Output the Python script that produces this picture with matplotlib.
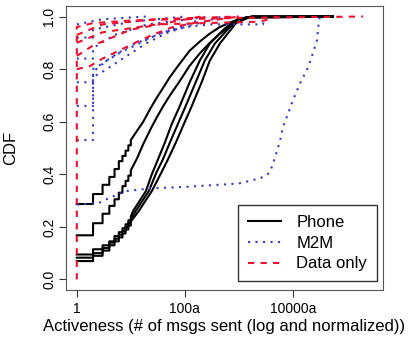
import matplotlib
matplotlib.use('Agg')
import matplotlib.pyplot as plt

plt.rcParams['font.family'] = ['Liberation Sans', 'DejaVu Sans']

# Phone CDFs (x = msgs sent, first 10 points are integer steps)
phone_x = [
    [1, 2, 3, 4, 5, 6, 7, 8, 9, 10, 13, 17, 23, 30, 40, 53, 80, 123, 190, 290, 445, 680, 1000, 1500, 55000],
    [1, 2, 3, 4, 5, 6, 7, 8, 9, 10, 13, 17, 23, 30, 40, 55, 81, 120, 190, 290, 445, 700, 1000, 1500, 55000],
    [1, 2, 3, 4, 5, 6, 7, 8, 9, 10, 11, 19, 24.5, 31.6, 42.6, 57, 81, 123, 189, 290, 550, 960, 1800, 55000],
    [1, 2, 3, 4, 5, 6, 7, 8, 9, 10, 12.3, 21.5, 30.3, 39, 52.7, 74, 104, 159, 234, 360, 680, 960, 1800, 55000],
    [1, 2, 3, 4, 5, 6, 7, 8, 9, 10, 14, 24.5, 37.5, 48.3, 68, 95.5, 135, 205, 290, 445, 810, 960, 1800, 55000],
]
phone_y = [
    [0.287, 0.325, 0.36, 0.39, 0.42, 0.45, 0.47, 0.49, 0.51, 0.53, 0.565, 0.60, 0.65, 0.69, 0.73, 0.77, 0.82, 0.87, 0.905, 0.935, 0.96, 0.977, 0.99, 0.998, 1.0],
    [0.168, 0.214, 0.25, 0.28, 0.305, 0.33, 0.355, 0.375, 0.395, 0.415, 0.46, 0.515, 0.57, 0.615, 0.66, 0.705, 0.755, 0.81, 0.86, 0.90, 0.935, 0.962, 0.98, 0.995, 1.0],
    [0.095, 0.115, 0.13, 0.145, 0.165, 0.18, 0.195, 0.21, 0.225, 0.24, 0.26, 0.336, 0.40, 0.455, 0.52, 0.59, 0.66, 0.75, 0.832, 0.897, 0.955, 0.99, 1.0, 1.0],
    [0.083, 0.10, 0.12, 0.14, 0.155, 0.17, 0.185, 0.20, 0.215, 0.23, 0.26, 0.336, 0.41, 0.455, 0.52, 0.59, 0.66, 0.75, 0.832, 0.897, 0.96, 0.99, 1.0, 1.0],
    [0.07, 0.09, 0.11, 0.13, 0.145, 0.16, 0.175, 0.19, 0.205, 0.22, 0.26, 0.336, 0.41, 0.455, 0.52, 0.59, 0.66, 0.75, 0.832, 0.897, 0.965, 0.99, 1.0, 1.0],
]
phone_steps = [10, 10, 10, 10, 10]

# M2M CDFs
m2m_x = [
    [1, 2.5, 4, 8, 25, 100, 1000, 2500, 3700, 4300, 5800, 6500, 10000, 13500, 19000, 23500, 28000, 30000, 31600],
    [1, 2, 3, 5, 10, 20, 50, 100, 300, 2800, 3000],
    [1, 2, 4, 10, 40, 100, 500],
    [1, 2, 5, 20, 300],
    [1, 2, 10, 100],
    [1, 3, 20],
    [1, 2, 6, 30, 200],
]
m2m_y = [
    [0.285, 0.29, 0.31, 0.336, 0.347, 0.352, 0.365, 0.385, 0.405, 0.44, 0.527, 0.576, 0.68, 0.745, 0.805, 0.86, 0.91, 0.97, 1.0],
    [0.53, 0.77, 0.79, 0.82, 0.86, 0.90, 0.94, 0.96, 0.97, 0.97, 1.0],
    [0.75, 0.79, 0.84, 0.89, 0.94, 0.96, 1.0],
    [0.84, 0.88, 0.93, 0.97, 1.0],
    [0.92, 0.95, 0.98, 1.0],
    [0.97, 0.99, 1.0],
    [0.66, 0.80, 0.86, 0.93, 0.99],
]
m2m_steps = [1, 2, 2, 2, 2, 1, 2]

# Data only CDFs
data_x = [
    [1, 1, 2, 10, 100, 1000, 200000],
    [1, 3, 30, 1000],
    [1, 1.7, 3, 6, 12, 25, 60, 200, 1000],
    [1, 3, 30, 2000, 3000, 5000],
    [1, 2, 10, 200],
]
data_y = [
    [0.0, 0.96, 0.975, 0.985, 0.99, 0.995, 1.0],
    [0.93, 0.97, 0.99, 1.0],
    [0.80, 0.81, 0.84, 0.87, 0.90, 0.93, 0.96, 0.98, 1.0],
    [0.90, 0.94, 0.97, 0.98, 0.985, 1.0],
    [0.85, 0.89, 0.95, 1.0],
]

x_ticks = [1, 100, 10000]
x_ticklabels = ['1', '100a', '10000a']
y_ticks = [0.0, 0.2, 0.4, 0.6, 0.8, 1.0]


def stair(xs, ys, n):
    # first n points drawn as steps, the rest straight
    px, py = [], []
    for i in range(len(xs)):
        if 0 < i < n:
            px.append(xs[i])
            py.append(ys[i - 1])
        px.append(xs[i])
        py.append(ys[i])
    return px, py


fig = plt.figure(figsize=(4.17, 3.41), dpi=100)
ax = fig.add_axes([66 / 417, 51 / 341, 317 / 417, 284 / 341])

for i in range(len(phone_x)):
    sx, sy = stair(phone_x[i], phone_y[i], phone_steps[i])
    ax.plot(sx, sy, color='black', lw=1.5, label='Phone' if i == 0 else None)

for i in range(len(m2m_x)):
    sx, sy = stair(m2m_x[i], m2m_y[i], m2m_steps[i])
    ax.plot(sx, sy, color='#3838c8', lw=1.5, dashes=(1, 2.6),
            label='M2M' if i == 0 else None)

for i in range(len(data_x)):
    ax.plot(data_x[i], data_y[i], color='#ee1030', lw=1.5, dashes=(3, 3),
            label='Data only' if i == 0 else None)

ax.set_xscale('log')
ax.set_xlim(10 ** -0.2, 10 ** 5.67)
ax.set_ylim(-0.04, 1.04)
ax.minorticks_off()
ax.set_xticks(x_ticks)
ax.set_xticklabels(x_ticklabels)
ax.set_yticks(y_ticks)
ax.set_yticklabels(['%.1f' % v for v in y_ticks], rotation=90, va='center')
ax.tick_params(labelsize=10, length=5, color='#333333')
ax.tick_params(axis='y', pad=2)
for s in ax.spines.values():
    s.set_color('#555555')
ax.set_xlabel('Activeness (# of msgs sent (log and normalized))', fontsize=12, labelpad=2)
ax.set_ylabel('CDF', fontsize=12)
ax.yaxis.set_label_coords(-0.15, 0.5)

leg = ax.legend(loc='lower right', bbox_to_anchor=(0.981, 0.03), borderaxespad=0,
                fontsize=12, fancybox=False, framealpha=1, edgecolor='#333333',
                handlelength=2.0, labelspacing=0.35, borderpad=0.6, handletextpad=0.9)
leg.get_frame().set_linewidth(1.0)

fig.savefig('out.png', dpi=100)
